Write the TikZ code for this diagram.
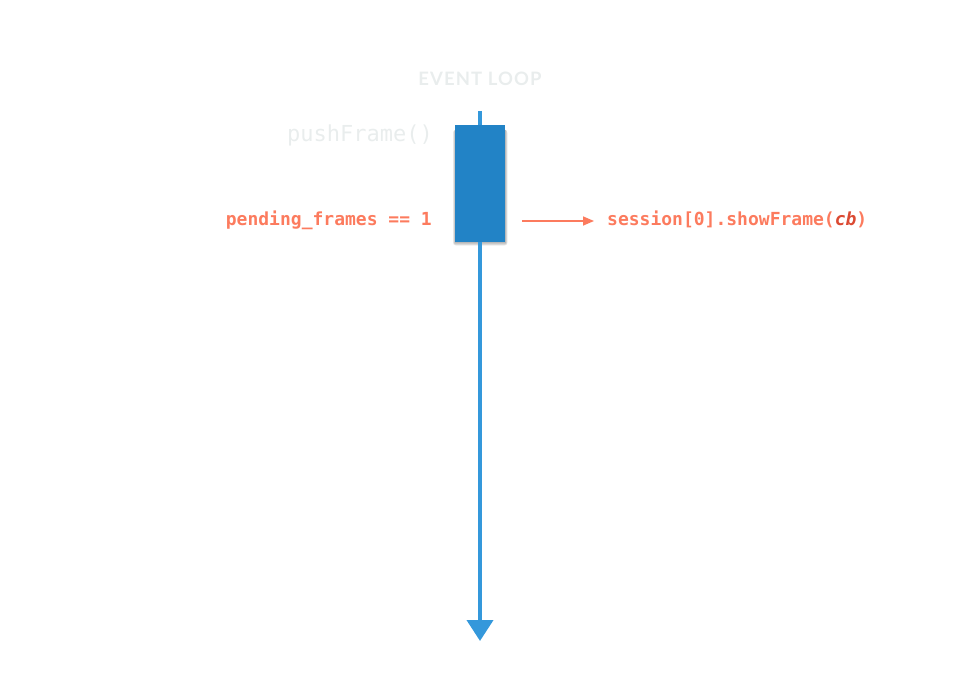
\documentclass[tikz,border=0pt]{standalone}
\usepackage{fontspec}
\setmainfont{Lato}
\setmonofont{DejaVu Sans Mono}
\usetikzlibrary{arrows.meta,backgrounds}
\definecolor{loopblue}{HTML}{3498DB}
\definecolor{boxblue}{HTML}{2283C6}
\definecolor{salmon}{HTML}{FC7B5E}
\definecolor{cbred}{HTML}{DB4A33}
\definecolor{faint}{HTML}{E9EDED}
\tikzset{
    code label/.style={font=\ttfamily\bfseries\fontsize{18}{18}\selectfont, text=salmon, inner sep=0pt},
    faint label/.style={text=faint, inner sep=0pt},
}

\begin{document}
\begin{tikzpicture}[x=1pt,y=-1pt]
\useasboundingbox (0,0) rectangle (960,700);

%title
\node[faint label, font=\bfseries\fontsize{18.5}{18.5}\selectfont\addfontfeature{LetterSpace=6}, anchor=base] (title) at (480,85.7) {EVENT LOOP};

%time line
\coordinate (top) at (480,111);
\coordinate (bottom) at (480,641);
\draw[loopblue, line width=4pt, -{Triangle[width=26pt,length=21pt]}] (top)--(bottom);

%current frame
\node[fill=boxblue, minimum width=50pt, minimum height=117pt, inner sep=0pt] (frame) at (480,183.5) {};

%soft shadow under the frame
\begin{scope}[on background layer]
\foreach \s in {0,1,2,3}
    \fill[black, opacity=0.08, rounded corners=\s pt]
        ([xshift={-0.6pt*\s}, yshift=-5pt]frame.north west) rectangle ([xshift={0.5pt+0.6pt*\s}, yshift={-1pt-0.8pt*\s}]frame.south east);
\end{scope}

%labels
\node[faint label, font=\ttfamily\fontsize{22}{22}\selectfont, anchor=base east] (push) at (433,141.5) {pushFrame()};
\node[code label, anchor=base east] (pending) at (432,226) {pending\_frames == 1};
\node[code label, anchor=base west] (show) at (607,226) {session[0].showFrame(\textcolor{cbred}{\itshape cb})};

%call
\coordinate (call from) at (522,221);
\coordinate (call to) at (594,221);
\draw[salmon, line width=1.5pt, -{Triangle[width=9pt,length=11pt]}] (call from)--(call to);
\end{tikzpicture}
\end{document}
